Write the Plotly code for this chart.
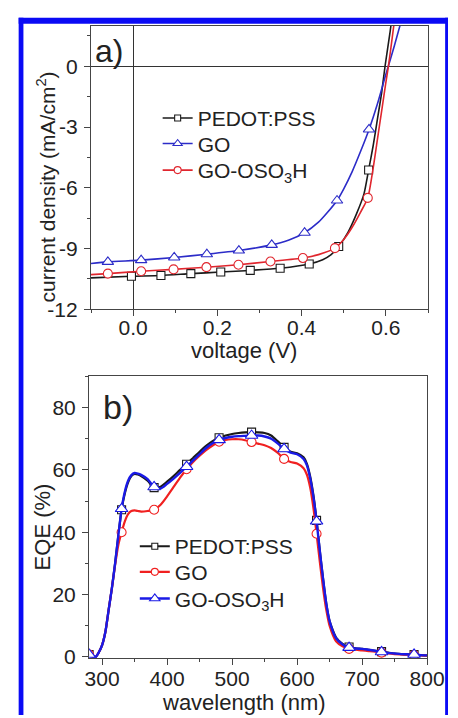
import plotly.graph_objects as go

# ---------------- Panel a: J-V curves ----------------
V_PEDOT = [-0.1, -0.004, 0.066, 0.137, 0.208, 0.278, 0.349, 0.418, 0.45, 0.47, 0.488,
           0.51, 0.53, 0.548, 0.559, 0.57, 0.58, 0.59, 0.598, 0.61, 0.62]
J_PEDOT = [-10.45, -10.37, -10.33, -10.24, -10.16, -10.08, -9.97, -9.76, -9.55, -9.3, -8.9,
           -8.2, -7.3, -6.3, -5.12, -3.9, -2.6, -1.3, 0.0, 1.7, 3.3]
V_GO = [-0.1, -0.06, 0.019, 0.0975, 0.175, 0.251, 0.329, 0.37, 0.407, 0.44, 0.46, 0.484,
        0.5, 0.52, 0.54, 0.56, 0.58, 0.6, 0.62, 0.64]
J_GO = [-9.74, -9.66, -9.57, -9.44, -9.28, -9.1, -8.82, -8.58, -8.22, -7.7, -7.25, -6.63,
        -6.05, -5.2, -4.2, -3.12, -1.85, -0.4, 1.0, 2.5]
V_OSO3H = [-0.1, -0.06, 0.019, 0.096, 0.174, 0.25, 0.326, 0.403, 0.44, 0.479, 0.5, 0.52,
           0.54, 0.557, 0.57, 0.58, 0.59, 0.6, 0.606, 0.615, 0.625]
J_OSO3H = [-10.29, -10.24, -10.12, -10.03, -9.92, -9.8, -9.64, -9.47, -9.3, -8.98, -8.55, -7.95,
           -7.2, -6.5, -5.0, -3.6, -2.2, -0.8, 0.0, 1.4, 3.0]

# marker positions
VM_PEDOT = [-0.004, 0.066, 0.137, 0.208, 0.278, 0.349, 0.418, 0.488, 0.559]
JM_PEDOT = [-10.37, -10.33, -10.24, -10.16, -10.08, -9.97, -9.76, -8.9, -5.12]
VM_GO = [-0.06, 0.019, 0.0975, 0.175, 0.251, 0.329, 0.407, 0.484, 0.56]
JM_GO = [-9.66, -9.57, -9.44, -9.28, -9.1, -8.82, -8.22, -6.63, -3.12]
VM_OSO3H = [-0.06, 0.019, 0.096, 0.174, 0.25, 0.326, 0.403, 0.479, 0.557]
JM_OSO3H = [-10.24, -10.12, -10.03, -9.92, -9.8, -9.64, -9.47, -8.98, -6.5]

JV_YTICKS = [-12, -9, -6, -3, 0]
JV_YTICKTEXT = ["-12", "-9", "-6", "-3", "0"]
JV_XTICKS = [0.0, 0.2, 0.4, 0.6]
JV_XTICKTEXT = ["0.0", "0.2", "0.4", "0.6"]

# ---------------- Panel b: EQE spectra ----------------
WL = [280, 285, 290, 295, 300, 305, 310, 315, 320, 325, 330, 335, 340, 345, 350, 355, 360,
      370, 380, 390, 400, 410, 420, 430, 440, 450, 460, 470, 480, 490, 500, 510, 520, 530,
      540, 550, 560, 570, 580, 590, 600, 610, 615, 620, 625, 630, 635, 640, 645, 650, 660,
      670, 680, 690, 700, 710, 720, 730, 740, 750, 760, 770, 780, 790, 800]
EQE_PEDOT = [0.8, 0.4, 0.0, 1.5, 3.8, 8, 15, 22, 30, 39, 47.2, 52.5, 56, 58, 58.7, 58.5, 58,
             56.5, 54.3, 54.6, 56.2, 58, 60, 61.8, 63.8, 65.8, 67.7, 69.2, 70.3, 71, 71.5, 71.8, 72, 72.1,
             72, 71.8, 71, 69.2, 67.2, 65.8, 65.3, 64, 62, 58, 52, 43.8, 34, 25, 17, 11.5, 6.2,
             4.2, 3.2, 2.8, 2.6, 2.3, 2.0, 1.7, 1.4, 1.1, 0.9, 0.8, 0.8, 0.6, 0.5]
EQE_GO = [0.8, 0.4, 0.0, 1.5, 3.8, 8, 15, 22, 29.5, 36, 40, 43.5, 45.8, 46.8, 47, 46.8, 46.6,
          46.8, 47.2, 48.8, 51.5, 54.5, 57.5, 60.2, 62.5, 64.5, 66.3, 67.8, 69, 69.6, 69.8, 69.8, 69.5, 68.9,
          68.4, 67.9, 67, 65.5, 63.5, 62.5, 62, 60.5, 58.5, 54.5, 48, 39.5, 30.5, 22, 15, 10, 5,
          3.4, 2.6, 2.3, 2.1, 1.9, 1.7, 1.4, 1.1, 0.9, 0.8, 0.7, 0.6, 0.5, 0.4]
EQE_OSO3H = [0.8, 0.4, 0.0, 1.5, 3.8, 8, 15, 22, 30, 39, 47.5, 53, 56.5, 58.3, 59, 58.8, 58.4,
             57, 54.5, 54, 55.5, 57.2, 59, 61, 63, 65, 67, 68.5, 69.6, 70.2, 70.6, 70.8, 70.9, 71,
             71, 70.7, 70, 68.5, 66.7, 65.5, 65, 63.5, 61.5, 57.5, 51.5, 43.5, 34, 25, 17, 11.5, 6,
             4, 3, 2.7, 2.6, 2.3, 2.0, 1.6, 1.3, 1.1, 0.9, 0.85, 0.8, 0.6, 0.5]
EQE_MARKER_WL = [280, 330, 380, 430, 480, 530, 580, 630, 680, 730, 780]

EQE_YTICKS = [0, 20, 40, 60, 80]
EQE_XTICKS = [300, 400, 500, 600, 700, 800]

FONT = "Liberation Sans, Arial, sans-serif"
BLACK = "#1a1a1a"
BLUE_A = "#2c2cc8"
RED_A = "#e0262e"
BLUE_B = "#1a1ae6"
RED_B = "#f02020"
TXT = "#222222"
AX = "#454545"

W, H = 458, 718
def px(x):
    return x / W
def py(y):
    return 1 - y / H

fig = go.Figure()

def add_series(x, y, xm, ym, color, symbol, msize, lw, name, xa, ya, legend):
    fig.add_trace(go.Scatter(x=x, y=y, mode="lines", line=dict(color=color, width=lw, shape="spline", smoothing=0.6),
                             xaxis=xa, yaxis=ya, showlegend=False, hoverinfo="skip"))
    fig.add_trace(go.Scatter(x=xm, y=ym, mode="markers",
                             marker=dict(symbol=symbol, size=msize, color="white", line=dict(color=color, width=1.1)),
                             xaxis=xa, yaxis=ya, showlegend=False, hoverinfo="skip"))
    fig.add_trace(go.Scatter(x=[None], y=[None], mode="lines+markers", name=name,
                             line=dict(color=color, width=lw),
                             marker=dict(symbol=symbol, size=msize - 2, color="white", line=dict(color=color, width=1.1)),
                             xaxis=xa, yaxis=ya, legend=legend))

# panel a
add_series(V_PEDOT, J_PEDOT, VM_PEDOT, JM_PEDOT, BLACK, "square", 8, 1.6, "PEDOT:PSS", "x", "y", "legend")
add_series(V_GO, J_GO, VM_GO, JM_GO, BLUE_A, "triangle-up", 10, 1.6, "GO", "x", "y", "legend2")
add_series(V_OSO3H, J_OSO3H, VM_OSO3H, JM_OSO3H, RED_A, "circle", 9, 1.6, "GO-OSO<sub>3</sub>H", "x", "y", "legend3")

# panel b
def pick(vals):
    return [v for w, v in zip(WL, vals) if w in EQE_MARKER_WL]

add_series(WL, EQE_PEDOT, EQE_MARKER_WL, pick(EQE_PEDOT), BLACK, "square", 8, 2.2, "PEDOT:PSS", "x2", "y2", "legend4")
add_series(WL, EQE_GO, EQE_MARKER_WL, pick(EQE_GO), RED_B, "circle", 9, 2.2, "GO", "x2", "y2", "legend5")
add_series(WL, EQE_OSO3H, EQE_MARKER_WL, pick(EQE_OSO3H), BLUE_B, "triangle-up", 11, 2.4, "GO-OSO<sub>3</sub>H", "x2", "y2", "legend6")

axis_common = dict(showgrid=False, showline=True, mirror=True, linecolor=AX, linewidth=1.2,
                   ticks="outside", ticklen=6, tickwidth=1.2, tickcolor=AX,
                   tickfont=dict(family=FONT, size=21, color=TXT))

def leg(x, y):
    return dict(x=px(x), y=py(y), xanchor="left", yanchor="middle", bgcolor="rgba(0,0,0,0)",
                font=dict(family=FONT, size=21, color=TXT), itemwidth=30)

def title_ann(text, x, y, angle=0, size=22):
    return dict(text=text, x=px(x), y=py(y), xref="paper", yref="paper", xanchor="center", yanchor="middle",
                textangle=angle, showarrow=False, font=dict(family=FONT, size=size, color=TXT))

fig.update_layout(
    width=W, height=H,
    margin=dict(l=0, r=0, t=0, b=0),
    paper_bgcolor="white", plot_bgcolor="white",
    font=dict(family=FONT, color=TXT),
    xaxis=dict(domain=[px(83), px(437)], anchor="y", range=[-0.1, 0.7],
               tickvals=JV_XTICKS, ticktext=JV_XTICKTEXT, ticklabelstandoff=-7,
               minor=dict(ticks="outside", ticklen=3, dtick=0.1, tick0=0, tickcolor=AX, tickwidth=1.2),
               zeroline=True, zerolinecolor="#333", zerolinewidth=1.3,
               **axis_common),
    yaxis=dict(domain=[py(306), py(18)], anchor="x", range=[-12, 2],
               tickvals=JV_YTICKS, ticktext=JV_YTICKTEXT, ticklabelstandoff=2,
               minor=dict(ticks="outside", ticklen=3, dtick=1.5, tick0=0, tickcolor=AX, tickwidth=1.2),
               zeroline=True, zerolinecolor="#333", zerolinewidth=1.3,
               **axis_common),
    xaxis2=dict(domain=[px(81), px(436)], anchor="y2", range=[280, 800],
                tickvals=EQE_XTICKS, ticklabelstandoff=-4,
                minor=dict(ticks="outside", ticklen=3, dtick=50, tick0=300, tickcolor=AX, tickwidth=1.2),
                zeroline=False,
                **axis_common),
    yaxis2=dict(domain=[py(660), py(374)], anchor="x2", range=[-0.3, 90],
                tickvals=EQE_YTICKS, ticklabelstandoff=2,
                minor=dict(ticks="outside", ticklen=3, dtick=10, tick0=0, tickcolor=AX, tickwidth=1.2),
                zeroline=False,
                **axis_common),
    legend=leg(153, 112),
    legend2=leg(153, 138),
    legend3=leg(153, 165),
    legend4=leg(129, 547),
    legend5=leg(129, 573),
    legend6=leg(129, 600),
    annotations=[
        title_ann("voltage (V)", 244, 348),
        title_ann("current density (mA/cm<sup>2</sup>)", 36, 182, -90, 21),
        title_ann("wavelength (nm)", 243.5, 705),
        title_ann("EQE (%)", 32, 527, -90),
        dict(text="a)", x=px(85), y=py(44), xref="paper", yref="paper", xanchor="left", yanchor="middle",
             showarrow=False, font=dict(family=FONT, size=32, color=TXT)),
        dict(text="b)", x=px(93), y=py(405), xref="paper", yref="paper", xanchor="left", yanchor="middle",
             showarrow=False, font=dict(family=FONT, size=34, color=TXT)),
    ],
    shapes=[
        dict(type="rect", xref="paper", yref="paper", x0=px(7), x1=px(12), y0=0, y1=py(10),
             fillcolor="#0a0af5", line=dict(width=0), layer="above"),
        dict(type="rect", xref="paper", yref="paper", x0=px(7), x1=1, y0=py(16), y1=py(10),
             fillcolor="#0a0af5", line=dict(width=0), layer="above"),
        dict(type="rect", xref="paper", yref="paper", x0=px(455), x1=1, y0=0, y1=py(10),
             fillcolor="#0a0af5", line=dict(width=0), layer="above"),
    ],
)

fig.write_html("out.html")
